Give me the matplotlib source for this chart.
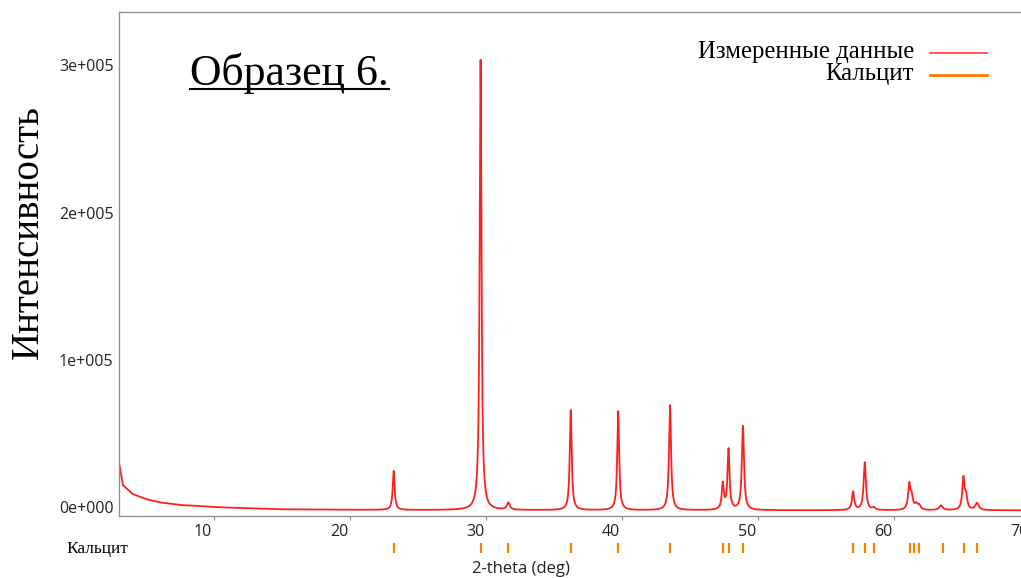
"""XRD pattern of sample 6 with calcite reference positions."""

import matplotlib

matplotlib.use("Agg")
import matplotlib.pyplot as plt
import matplotlib.transforms as mtransforms
import numpy as np
from matplotlib.lines import Line2D

peak_pos = [23.21, 29.60, 31.64, 36.23, 39.72, 43.53, 47.41, 47.83, 48.89,
            56.99, 57.85, 58.51, 61.12, 61.30, 61.62, 61.85, 63.45, 65.10, 65.30, 66.10]
peak_height = [26500, 306000, 4800, 68000, 67300, 71400, 17500, 41000, 57000,
               12500, 32500, 1500, 17000, 8000, 3500, 3000, 3200, 21500, 8500, 4800]
peak_fwhm = [0.17, 0.16, 0.25, 0.17, 0.17, 0.18, 0.18, 0.18, 0.19,
             0.20, 0.20, 0.25, 0.20, 0.20, 0.25, 0.25, 0.30, 0.20, 0.20, 0.30]

# background level read at a few 2-theta points
bg_theta = [3.02, 3.3, 4.0, 5.04, 6.0, 7.5, 10.4, 14.9, 20.0, 25.0, 35.0, 45.0, 55.0, 70.0]
bg_level = [32500, 17500, 11500, 7850, 5800, 3975, 2410, 1050, 700, 550, 450, 400, 350, 350]

# calcite reference lines
calcite_pos = [23.21, 29.60, 31.64, 36.23, 39.72, 43.53, 47.41, 47.83, 48.89,
               56.99, 57.85, 58.51, 61.17, 61.49, 61.83, 63.57, 65.17, 66.13]

x_ticks = [10, 20, 30, 40, 50, 60]
y_ticks = [0, 100000, 200000, 300000]
y_tick_labels = ["0e+000", "1e+005", "2e+005", "3e+005"]

W, H = 1021, 578
RED = "#ff1f1f"
ORANGE = "#ff8000"
SPINE = "#8c8c8c"


def fx(px):
    return px / W


def fy(py):
    return 1 - py / H


theta = np.linspace(3.0, 70.0, 20000)
counts = np.interp(theta, bg_theta, bg_level)
for pos, height, fwhm in zip(peak_pos, peak_height, peak_fwhm):
    counts = counts + height / (1 + ((theta - pos) / (fwhm / 2)) ** 2)

fig = plt.figure(figsize=(W / 100, H / 100), dpi=100)
ax = fig.add_axes([fx(119), fy(516), fx(1025 - 119), (516 - 12) / H])
ax.plot(theta, counts, color=RED, lw=1.3)
ax.set_xlim(3.015, 69.63)
ax.set_ylim(-3500, 339000)

for side in ["left", "bottom", "top"]:
    ax.spines[side].set_color(SPINE)
    ax.spines[side].set_linewidth(0.9)
ax.spines["right"].set_visible(False)

ax.set_xticks(x_ticks)
ax.set_yticks(y_ticks)
ax.set_yticklabels(y_tick_labels)
ax.tick_params(axis="x", length=3, color=SPINE, pad=3, labelsize=11.5, labelcolor="#222222")
ax.tick_params(axis="y", length=0, pad=4, labelsize=11.5, labelcolor="#222222")
for lab in ax.get_xticklabels() + ax.get_yticklabels():
    lab.set_fontfamily("Open Sans")

# the original software draws labels a little off their ticks
shift_x = mtransforms.ScaledTranslation(-11 / 100, 0, fig.dpi_scale_trans)
for lab in ax.get_xticklabels():
    lab.set_transform(lab.get_transform() + shift_x)
shift_y = mtransforms.ScaledTranslation(0, 4 / 100, fig.dpi_scale_trans)
for lab in ax.get_yticklabels():
    lab.set_transform(lab.get_transform() + shift_y)

# "70" sits right at the cropped edge, as in the source image
ax.text(70, 0, "70", fontsize=11.5, family="Open Sans", color="#222222",
        ha="center", va="top", clip_on=False,
        transform=ax.get_xaxis_transform()
        + mtransforms.ScaledTranslation(-11 / 100, -8 / 100, fig.dpi_scale_trans))

# calcite tick row under the axis
ax_ref = fig.add_axes([fx(119), fy(553), fx(1025 - 119), 10 / H], sharex=ax)
ax_ref.vlines(calcite_pos, 0, 1, color=ORANGE, lw=1.6)
ax_ref.set_ylim(0, 1)
ax_ref.axis("off")
fig.text(fx(97), fy(549), "Кальцит", family="Liberation Serif", fontsize=12.5,
         ha="center", va="center")

fig.text(fx(521), fy(569), "2-theta (deg)", family="Open Sans", fontsize=12,
         ha="center", va="center", color="#222222")
fig.text(fx(28), fy(232), "Интенсивность", family="Liberation Serif", fontsize=28,
         rotation=90, ha="center", va="center")

title = fig.text(fx(190), fy(85), "Образец 6.", family="Liberation Serif", fontsize=31.5,
                 ha="left", va="baseline")

# legend drawn by hand: text right-aligned, line sample on the right
fig.text(fx(914), fy(58), "Измеренные данные", family="Liberation Serif", fontsize=17.8,
         ha="right", va="baseline")
fig.text(fx(914), fy(80), "Кальцит", family="Liberation Serif", fontsize=17.8,
         ha="right", va="baseline")
fig.add_artist(Line2D([fx(930), fx(987)], [fy(53), fy(53)], color="#ff4545", lw=1.3))
fig.add_artist(Line2D([fx(930), fx(987)], [fy(74.5), fy(74.5)], color=ORANGE, lw=2))

fig.canvas.draw()
bb = title.get_window_extent()
fig.add_artist(Line2D([bb.x0 / W, bb.x1 / W], [fy(88.5), fy(88.5)], color="black", lw=1.5))

fig.savefig("out.png", dpi=100)
